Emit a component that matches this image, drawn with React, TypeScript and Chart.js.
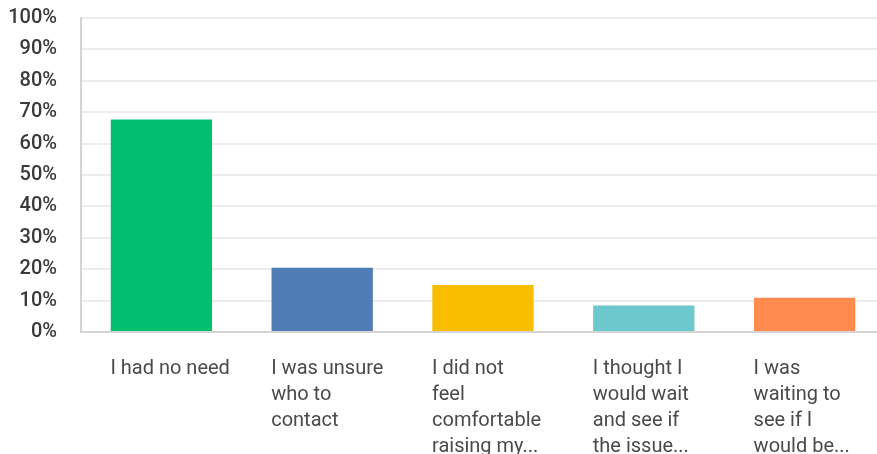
import React, { useEffect, useRef } from "react";
import { Chart, registerables } from "chart.js";

Chart.register(...registerables);

const categories: (string | string[])[] = [
  "I had no need",
  ["I was unsure", "who to", "contact"],
  ["I did not", "feel", "comfortable", "raising my..."],
  ["I thought I", "would wait", "and see if", "the issue..."],
  ["I was", "waiting to", "see if I", "would be..."],
];
const values: number[] = [67.7, 20.5, 15.0, 8.4, 10.9];
const barColors: string[] = ["#00BF6F", "#507CB6", "#F9BE00", "#6BC8CD", "#FF8B4F"];
const yTicks: number[] = [0, 10, 20, 30, 40, 50, 60, 70, 80, 90, 100];

export default function App() {
  const ref = useRef<HTMLCanvasElement | null>(null);
  useEffect(() => {
    if (!ref.current) return;
    const zeroPad = (s: any) => {
      s.paddingTop = 0;
      s.paddingBottom = 0;
      s.paddingLeft = 0;
      s.paddingRight = 0;
    };
    const chart = new Chart(ref.current, {
      type: "bar",
      data: {
        labels: categories,
        datasets: [
          {
            data: values,
            backgroundColor: barColors,
            borderWidth: 0,
            barPercentage: 0.63,
            categoryPercentage: 1,
          },
        ],
      },
      options: {
        animation: false,
        responsive: true,
        maintainAspectRatio: false,
        layout: { padding: { top: 18, left: 0, right: 0, bottom: 0 } },
        plugins: { legend: { display: false }, tooltip: { enabled: false } },
        scales: {
          x: {
            grid: { display: false, drawTicks: false },
            border: { display: true, color: "#d4d4d4", width: 2 },
            ticks: {
              align: "start",
              labelOffset: -51,
              padding: 24,
              autoSkip: false,
              maxRotation: 0,
              color: "#4a4a4a",
              font: { family: "Roboto", size: 20, lineHeight: 1.3 },
            },
            afterFit: (s: any) => {
              s.height = 122;
              zeroPad(s);
            },
          },
          y: {
            min: 0,
            max: 100,
            afterBuildTicks: (s: any) => {
              s.ticks = yTicks.map((v) => ({ value: v }));
            },
            grid: { color: "#ececec", lineWidth: 2, drawTicks: false },
            border: { display: true, color: "#d4d4d4", width: 2 },
            ticks: {
              padding: 24,
              color: "#3a3a3a",
              font: { family: "Roboto", size: 20, weight: "500" },
              callback: (v: any) => v + "%",
            },
            afterFit: (s: any) => {
              s.width = 81;
              zeroPad(s);
            },
          },
        },
      },
    });
    return () => chart.destroy();
  }, []);
  return (
    <div style={{ position: "fixed", left: 0, top: 0, width: 877, height: 454, overflow: "hidden", background: "#fff" }}>
      <div style={{ position: "relative", width: 885, height: 454 }}>
        <canvas ref={ref} />
      </div>
    </div>
  );
}
